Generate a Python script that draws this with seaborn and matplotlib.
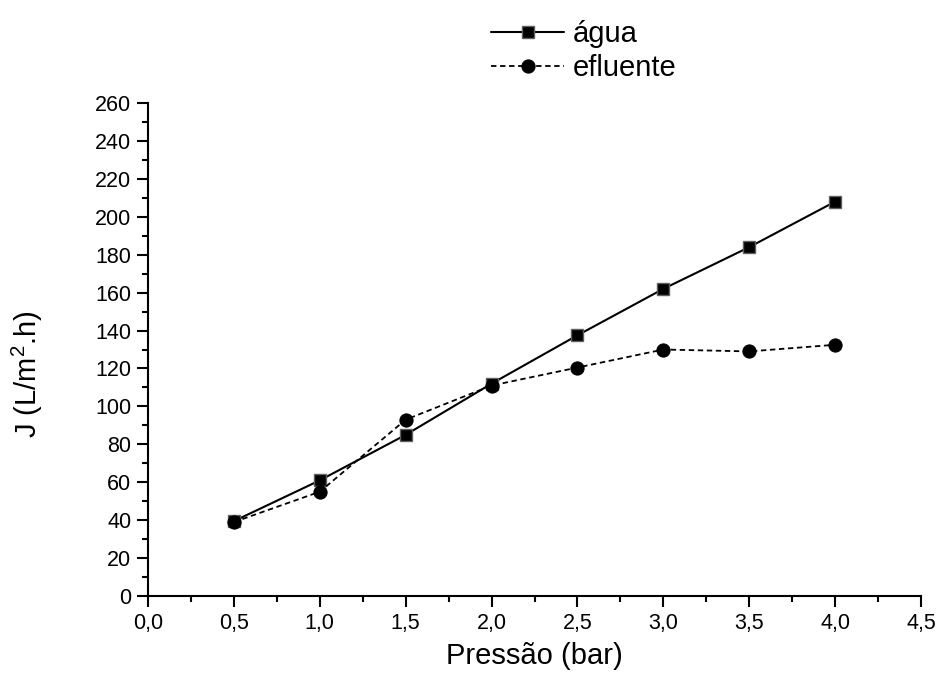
import matplotlib
matplotlib.use("Agg")
import matplotlib.pyplot as plt
import seaborn as sns
import pandas as pd
from matplotlib.ticker import MultipleLocator, FuncFormatter

pressao = [0.5, 1.0, 1.5, 2.0, 2.5, 3.0, 3.5, 4.0]
agua = [39.5, 61, 85, 112, 137.5, 162, 184, 208]
efluente = [39, 55, 93, 111, 120.5, 130, 129, 132.5]
series_names = ["água", "efluente"]
x_ticks = [0.0, 0.5, 1.0, 1.5, 2.0, 2.5, 3.0, 3.5, 4.0, 4.5]
y_ticks = list(range(0, 261, 20))

sns.set_style("ticks", {"axes.edgecolor": "black", "text.color": "black",
                        "axes.labelcolor": "black", "xtick.color": "black",
                        "ytick.color": "black"})
plt.rcParams['font.family'] = ['Liberation Sans', 'DejaVu Sans']
plt.rcParams['mathtext.fontset'] = 'custom'
plt.rcParams['mathtext.rm'] = 'Liberation Sans'
plt.rcParams['mathtext.it'] = 'Liberation Sans'

df_a = pd.DataFrame({"x": pressao, "y": agua})
df_e = pd.DataFrame({"x": pressao, "y": efluente})

fig = plt.figure(figsize=(9.38, 6.8), dpi=100)
ax = fig.add_axes([0.1578, 0.1235, 0.9819 - 0.1578, 0.8485 - 0.1235])

sns.lineplot(data=df_a, x="x", y="y", ax=ax, color="black", linewidth=1.5,
             linestyle="-", marker="s", markersize=8, markerfacecolor="black",
             markeredgecolor="#606060", markeredgewidth=1.0, label=series_names[0])
sns.lineplot(data=df_e, x="x", y="y", ax=ax, color="black", linewidth=1.3,
             linestyle=(0, (3, 2)), marker="o", markersize=9.5, markerfacecolor="black",
             markeredgecolor="black", label=series_names[1])

ax.set_xlim(x_ticks[0], x_ticks[-1])
ax.set_ylim(y_ticks[0], y_ticks[-1])
ax.set_xticks(x_ticks)
ax.set_yticks(y_ticks)
ax.xaxis.set_minor_locator(MultipleLocator(0.25))
ax.yaxis.set_minor_locator(MultipleLocator(10))
ax.xaxis.set_major_formatter(FuncFormatter(lambda v, p: f"{v:.1f}".replace(".", ",")))
ax.tick_params(axis='both', which='major', length=8, width=1.5, labelsize=15.5,
               direction='out', pad=4, colors='black')
ax.tick_params(axis='both', which='minor', length=4, width=1.5, direction='out', colors='black')
for s in ["top", "right"]:
    ax.spines[s].set_visible(False)
for s in ["left", "bottom"]:
    ax.spines[s].set_linewidth(1.5)
    ax.spines[s].set_color("black")

ax.set_xlabel("Pressão (bar)", fontsize=21, labelpad=6, color="black")
ax.set_ylabel(r"J (L/m$^2$.h)", fontsize=21, color="black")
ax.yaxis.set_label_coords(-0.133, 0.45)

leg = ax.legend(loc="upper left", bbox_to_anchor=(0.5205, 0.975), bbox_transform=fig.transFigure,
                frameon=False, fontsize=21, handlelength=2.5, handletextpad=0.3,
                labelspacing=0.22, borderaxespad=0.0, borderpad=0.1)
for t in leg.get_texts():
    t.set_color("black")

fig.savefig("out.png", dpi=100)
